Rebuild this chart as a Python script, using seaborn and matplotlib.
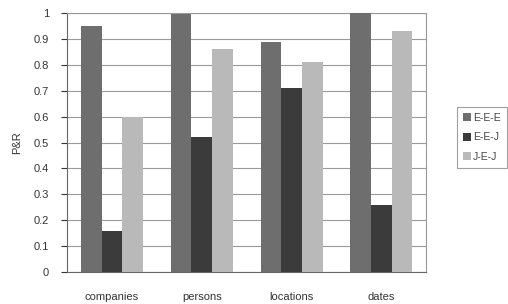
import numpy as np
import pandas as pd
import matplotlib
matplotlib.use("Agg")
import matplotlib.pyplot as plt
import seaborn as sns

categories = ["companies", "persons", "locations", "dates"]
series = ["E-E-E", "E-E-J", "J-E-J"]
eee = [0.95, 0.995, 0.89, 1.0]
eej = [0.16, 0.52, 0.71, 0.26]
jej = [0.60, 0.86, 0.81, 0.93]

df = pd.DataFrame({
    "category": categories * 3,
    "series": [series[0]] * 4 + [series[1]] * 4 + [series[2]] * 4,
    "value": eee + eej + jej,
})

sns.set_style("white")
plt.rcParams["font.family"] = ["Liberation Sans", "DejaVu Sans"]

fig = plt.figure(figsize=(5.08, 3.04), dpi=100)
ax = fig.add_axes([0.132, 0.105, 0.707, 0.852])

palette = {"E-E-E": "#6e6e6e", "E-E-J": "#3b3b3b", "J-E-J": "#b9b9b9"}
sns.barplot(data=df, x="category", y="value", hue="series", palette=palette,
            width=0.69, gap=0, saturation=1, ax=ax, zorder=3, linewidth=0)

ax.set_ylim(0, 1)
ax.set_xlim(-0.5, 3.5)
ax.set_yticks(np.arange(0, 1.01, 0.1))
ax.set_yticklabels(["0", "0.1", "0.2", "0.3", "0.4", "0.5", "0.6", "0.7", "0.8", "0.9", "1"])
ax.yaxis.grid(True, color="#9a9a9a", linewidth=0.8, zorder=0)
ax.set_xticks(range(4))
ax.set_xticks([0.5, 1.5, 2.5], minor=True)
ax.tick_params(axis="x", which="major", length=0, pad=14, labelsize=8, colors="#333333")
ax.tick_params(axis="x", which="minor", length=4, direction="inout", color="#777777")
ax.tick_params(axis="y", length=4, direction="out", labelsize=8, colors="#333333",
               left=True, pad=9)
ax.set_xlabel("")
ax.set_ylabel("P&R", fontsize=8, color="#333333", labelpad=8)
for s in ax.spines.values():
    s.set_color("#999999")
    s.set_linewidth(0.8)
ax.spines["bottom"].set_color("#666666")
ax.spines["left"].set_color("#666666")

leg = ax.legend(loc="center left", bbox_to_anchor=(1.07, 0.52), fontsize=7.5,
                frameon=True, fancybox=False, handlelength=0.8, handleheight=0.8,
                handletextpad=0.2, labelspacing=0.9, borderpad=0.6, labelcolor="#444444")
leg.get_frame().set_edgecolor("#888888")
leg.get_frame().set_linewidth(0.8)

fig.savefig("out.png", dpi=100)
